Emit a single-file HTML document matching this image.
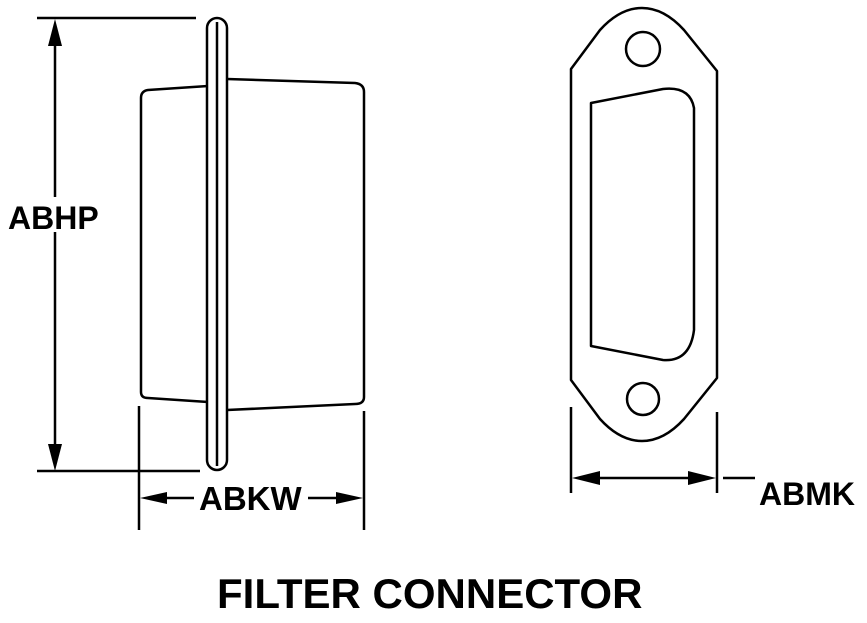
<!DOCTYPE html>
<html><head><meta charset="utf-8"><style>
html,body{margin:0;padding:0;background:#fff;}
svg{display:block;}
text{font-family:"Liberation Sans",Arial,sans-serif;font-weight:bold;fill:#000;}
</style></head><body>
<svg width="867" height="623" viewBox="0 0 867 623" xmlns="http://www.w3.org/2000/svg">
<g fill="none" stroke="#000" stroke-width="2.5" stroke-linejoin="round">
<line x1="37" y1="18" x2="196" y2="18"/>
<line x1="37" y1="471" x2="200" y2="471"/>
<line x1="55" y1="40" x2="55" y2="197"/>
<line x1="55" y1="232" x2="55" y2="450"/>
<line x1="139" y1="406" x2="139" y2="530"/>
<line x1="364" y1="411" x2="364" y2="530"/>
<line x1="150" y1="498" x2="194" y2="498"/>
<line x1="308" y1="498" x2="352" y2="498"/>
<path d="M208,86 L148,90 Q141,91 141,98 L141,392 Q141,398 148,398 L208,402"/>
<path d="M227,79 L355,83 Q364,84 364,92 L364,397 Q364,404 355,404 L227,410"/>
<rect x="207" y="18" width="20" height="452" rx="10"/>
<line x1="217" y1="22" x2="217" y2="466"/>
<path d="M571,69 L600,30 Q620,8 642,8 Q664,8 684,30 L717,71 L717,378 L684,419 Q664,441 642,441 Q620,441 600,419 L571,380 Z"/>
<circle cx="643" cy="49" r="17"/>
<circle cx="643" cy="399" r="16"/>
<path d="M591,103 L663,89 Q690,86 694,108 L694,330 Q690,362 663,360 L591,346 Z"/>
<line x1="571" y1="407" x2="571" y2="493"/>
<line x1="717" y1="412" x2="717" y2="493"/>
<line x1="580" y1="478" x2="708" y2="478"/>
<line x1="723" y1="478" x2="755" y2="478"/>
</g>
<g fill="#000">
<polygon points="55,19 48,46 62,46"/>
<polygon points="55,471 48,444 62,444"/>
<polygon points="140,498 167,492 167,504"/>
<polygon points="363,498 336,492 336,504"/>
<polygon points="572,478 600,471 600,485"/>
<polygon points="716,478 688,471 688,485"/>
</g>
<text x="8" y="229" font-size="32">ABHP</text>
<text x="199" y="510" font-size="33">ABKW</text>
<text x="759" y="505" font-size="32">ABMK</text>
<text x="217" y="608" font-size="42">FILTER CONNECTOR</text>
</svg>
</body></html>
